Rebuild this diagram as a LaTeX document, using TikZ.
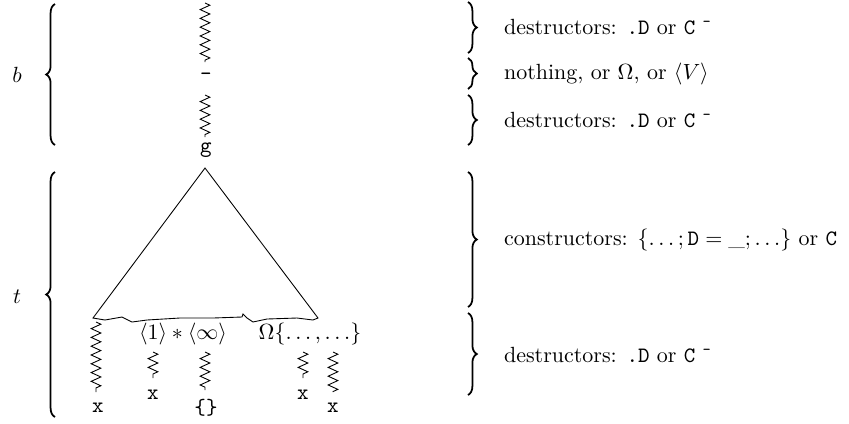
\documentclass[tikz,border=0pt]{standalone}
\usepackage{amsmath}
\usepackage{amssymb}
\usetikzlibrary{decorations.pathmorphing}
\usetikzlibrary{decorations.pathreplacing}

\tikzset{
  zig/.style={decorate,decoration={zigzag,segment length=4pt,amplitude=2.2pt}},
  bracel/.style={decorate,decoration={brace,amplitude=4pt},line width=0.8pt},
  lbl/.style={inner sep=0.75pt},
}

\begin{document}
\begin{tikzpicture}[x=0.455pt,y=0.455pt,yscale=-1,xscale=1]
\path[use as bounding box] (0,0) rectangle (849,423);

% Text Node
\node[lbl] (b) at (17,75) {$b$};
\node[lbl] (t) at (17,297) {$t$};

%Left Braces
\draw[bracel] (55,145) -- (55,4);
\draw[bracel] (55,417) -- (55,172);

%Top spine
\coordinate (ztop) at (205,3);
\coordinate (zmid) at (205,62);
\node[lbl] (dash) at (206,77) {\texttt{-}};
\coordinate (zlow) at (205,95);
\coordinate (zg) at (205,137);
\node[lbl] (g) at (206,150) {\texttt{g}};
\draw[zig] (ztop) -- (zmid);
\draw[zig] (zlow) -- (zg);

%Triangle with ragged base
\coordinate (apex) at (205,168);
\coordinate (bl) at (93,318);
\coordinate (br) at (318,318);
\draw (bl) -- (apex) -- (br)
  -- (313,320) -- (297,318) -- (267,319) -- (253,322) -- (247,318) -- (243,314)
  -- (242,317) -- (213,318) -- (180,318) -- (147,320) -- (132,322) -- (122,317)
  -- (105,320) -- cycle;

% Text Node
\node[lbl] (ones) at (183,334) {$\langle 1\rangle * \langle\infty\rangle$};
\node[lbl] (omega) at (310,334) {$\Omega\{\ldots,\ldots\}$};

%Leaf zigzags
\coordinate (a1) at (96,322);  \coordinate (a2) at (96,392);
\coordinate (b1) at (153,352); \coordinate (b2) at (153,378);
\coordinate (c1) at (205,352); \coordinate (c2) at (205,390);
\coordinate (d1) at (303,352); \coordinate (d2) at (303,378);
\coordinate (e1) at (333,352); \coordinate (e2) at (333,392);
\draw[zig] (a1) -- (a2);
\draw[zig] (b1) -- (b2);
\draw[zig] (c1) -- (c2);
\draw[zig] (d1) -- (d2);
\draw[zig] (e1) -- (e2);

% Text Node
\node[lbl] (xa) at (98,408) {\texttt{x}};
\node[lbl] (xb) at (153,395) {\texttt{x}};
\node[lbl] (xc) at (206,408) {\texttt{\{\}}};
\node[lbl] (xd) at (303,395) {\texttt{x}};
\node[lbl] (xe) at (333,408) {\texttt{x}};

%Right Braces
\draw[bracel] (468,2) -- (468,53);
\draw[bracel] (468,58) -- (468,89);
\draw[bracel] (468,95) -- (468,145);
\draw[bracel] (468,172) -- (468,307);
\draw[bracel] (468,313) -- (468,395);

% Text Node
\node[lbl,anchor=west] (des1) at (502,27) {destructors: \texttt{.D} or \texttt{C}\ $^{\texttt{-}}$};
\node[lbl,anchor=west] (noth) at (502,74) {nothing, or $\Omega$, or $\langle V\rangle$};
\node[lbl,anchor=west] (des2) at (502,120) {destructors: \texttt{.D} or \texttt{C}\ $^{\texttt{-}}$};
\node[lbl,anchor=west] (cons) at (502,240) {constructors: $\{\ldots;\texttt{D} = \_;\ldots\}$ or \texttt{C}};
\node[lbl,anchor=west] (des3) at (502,355) {destructors: \texttt{.D} or \texttt{C}\ $^{\texttt{-}}$};

\end{tikzpicture}
\end{document}
